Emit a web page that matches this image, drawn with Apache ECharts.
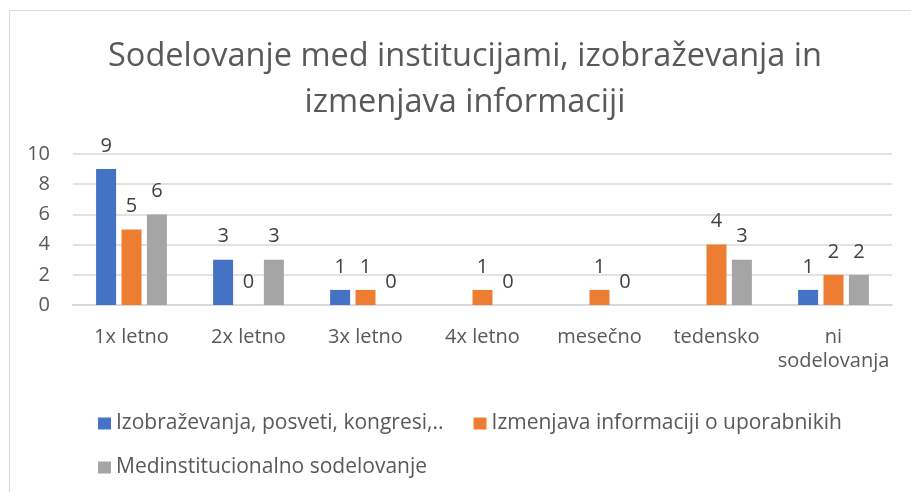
<!DOCTYPE html>
<html>
<head>
<meta charset="utf-8">
<script src="https://cdn.jsdelivr.net/npm/echarts@6/dist/echarts.min.js"></script>
<style>
  html, body { margin: 0; padding: 0; background: #fff; }
  #chart { width: 911px; height: 492px; }
</style>
</head>
<body>
<div id="chart"></div>
<script>
// data ('-' = no bar, no label)
const categories = ['1x letno', '2x letno', '3x letno', '4x letno', 'mesečno', 'tedensko', 'ni\nsodelovanja'];
const izobrazevanja = [9, 3, 1, '-', '-', '-', 1];
const izmenjava = [5, 0, 1, 1, 1, 4, 2];
const medinstitucionalno = [6, 3, 0, 0, 0, 3, 2];
const seriesNames = ['Izobraževanja, posveti, kongresi,..', 'Izmenjava informaciji o uporabnikih', 'Medinstitucionalno sodelovanje'];
const yTicks = { min: 0, max: 10, step: 2 };

const font = '"Open Sans", "Noto Sans", sans-serif';
const barLabel = {
  show: true,
  position: 'top',
  distance: 13,
  color: '#404040',
  fontSize: 20,
  fontFamily: font
};

function makeBar (name, data, color) {
  return {
    name: name,
    type: 'bar',
    data: data,
    barWidth: 20,
    barGap: '27%',
    itemStyle: { color: color },
    label: barLabel
  };
}

const legendText = { fontSize: 21, color: '#595959', fontFamily: font };

const chart = echarts.init(document.getElementById('chart'));
chart.setOption({
  animation: false,
  textStyle: { fontFamily: font },
  title: {
    text: 'Sodelovanje med institucijami, izobraževanja in\nizmenjava informaciji',
    left: 460,
    textAlign: 'center',
    top: 29,
    textStyle: {
      fontFamily: font,
      fontSize: 32.5,
      fontWeight: 'normal',
      color: '#595959',
      lineHeight: 46
    }
  },
  graphic: [{
    type: 'rect',
    shape: { x: 9.5, y: 10.5, width: 1000, height: 1000 },
    style: { fill: 'none', stroke: '#d9d9d9', lineWidth: 1 },
    silent: true
  }],
  legend: [{
    data: [seriesNames[0], seriesNames[1]],
    left: 93,
    top: 408,
    itemWidth: 13,
    itemHeight: 12,
    itemGap: 30,
    icon: 'rect',
    textStyle: legendText
  }, {
    data: [seriesNames[2]],
    left: 93,
    top: 452,
    itemWidth: 13,
    itemHeight: 12,
    icon: 'rect',
    textStyle: legendText
  }],
  grid: { left: 73, right: 19, top: 154, height: 151 },
  xAxis: {
    type: 'category',
    data: categories,
    axisTick: { show: false },
    axisLine: { lineStyle: { color: '#d9d9d9', width: 2 } },
    axisLabel: {
      interval: 0,
      margin: 20,
      fontSize: 20,
      lineHeight: 24,
      color: '#595959',
      fontFamily: font
    }
  },
  yAxis: {
    type: 'value',
    min: yTicks.min,
    max: yTicks.max,
    interval: yTicks.step,
    axisLine: { show: false },
    axisTick: { show: false },
    axisLabel: { fontSize: 20, color: '#595959', margin: 23, fontFamily: font },
    splitLine: { lineStyle: { color: '#d9d9d9', width: 1.5 } }
  },
  series: [
    makeBar(seriesNames[0], izobrazevanja, '#4472C4'),
    makeBar(seriesNames[1], izmenjava, '#ED7D31'),
    makeBar(seriesNames[2], medinstitucionalno, '#A5A5A5')
  ]
});
</script>
</body>
</html>
